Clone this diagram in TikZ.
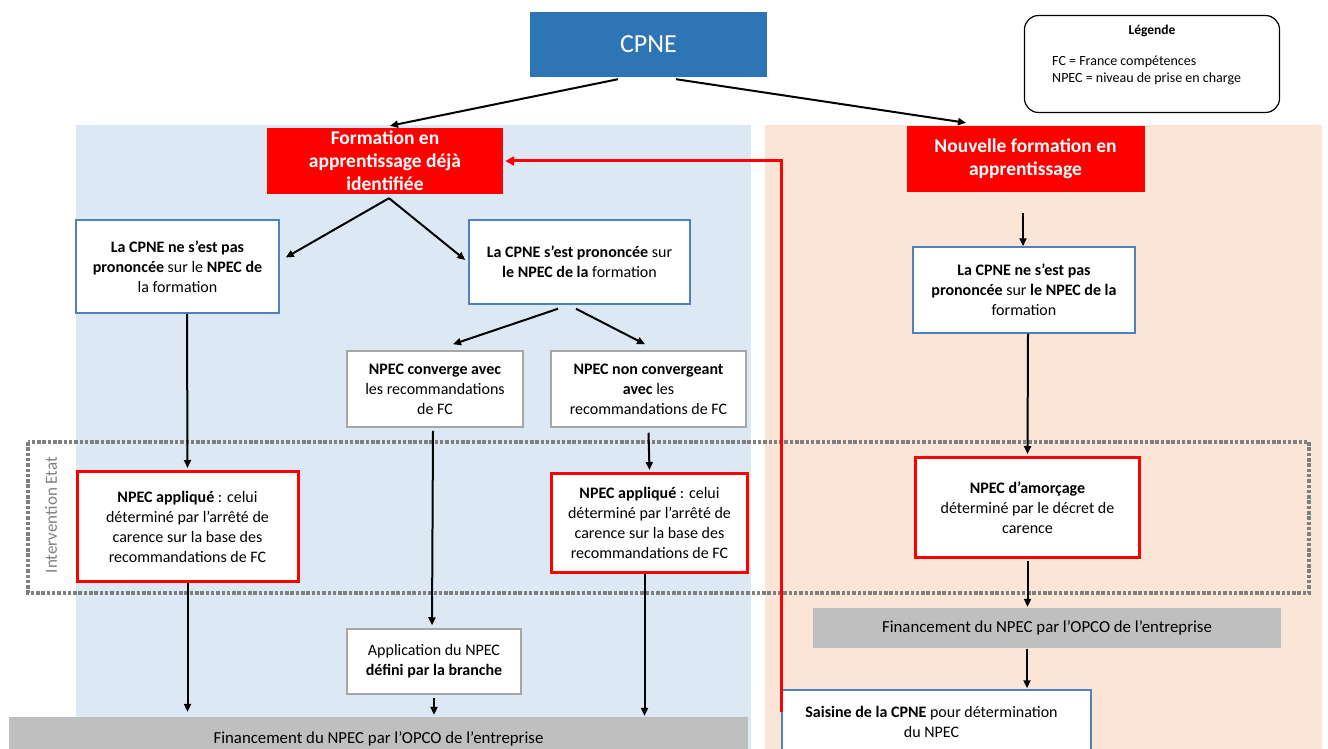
\documentclass[tikz,border=0pt]{standalone}
\usepackage{fontspec}
\setmainfont{Carlito}
\usetikzlibrary{arrows.meta,calc,positioning}
\definecolor{cpneblue}{RGB}{46,117,182}
\definecolor{panelblue}{RGB}{221,232,245}
\definecolor{peach}{RGB}{251,229,214}
\definecolor{bred}{RGB}{255,0,0}
\definecolor{boxblue}{RGB}{79,129,189}
\definecolor{boxgray}{RGB}{166,166,166}
\definecolor{barg}{RGB}{191,191,191}
\definecolor{dashg}{RGB}{127,127,127}
\tikzset{
  basebox/.style={rectangle,inner sep=0pt,align=center,font=\fontsize{16}{20}\selectfont},
  bluebox/.style={basebox,draw=boxblue,line width=1.5pt,fill=white},
  graybox/.style={basebox,draw=boxgray,line width=1.5pt,fill=white},
  redbox/.style={basebox,draw=bred,line width=3pt,fill=white},
  headbox/.style={rectangle,inner sep=0pt,align=center,fill=bred,text=white,font=\fontsize{19.5}{23}\selectfont\bfseries},
  bar/.style={rectangle,inner sep=0pt,fill=barg,font=\fontsize{16.8}{20}\selectfont},
  conn/.style={line width=2pt,-{Triangle[length=8pt,width=7pt]}},
  redconn/.style={draw=bred,line width=3pt,-{Triangle[length=9pt,width=9pt]}},
}
\begin{document}
\begin{tikzpicture}[x=1pt,y=-1pt]
\useasboundingbox (0,0) rectangle (1328,749);
\clip (0,0) rectangle (1328,749);
% panels
\fill[panelblue] (76,125) rectangle (751,760);
\fill[peach] (765,125) rectangle (1322,760);
% dotted intervention frame
\draw[dashg,line width=3.5pt,dash pattern=on 3.5pt off 1.8pt] (28,442) rectangle (1309,593);
\node[rotate=90,text=dashg,font=\fontsize{17}{19}\selectfont] (interv) at (51,515) {Intervention Etat};
% top
\node[rectangle,fill=cpneblue,text=white,minimum width=237pt,minimum height=65pt,font=\fontsize{26}{30}\selectfont] (cpne) at (648.5,44.5) {CPNE};
\node[rectangle,draw=black,line width=1.2pt,rounded corners=14pt,fill=white,minimum width=255pt,minimum height=97pt] (legend) at (1152,64) {};
\node[font=\fontsize{13.5}{15}\selectfont\bfseries] (legtitle) at (1152,31) {Légende};
\node[anchor=north west,align=left,inner sep=0pt,font=\fontsize{14}{17}\selectfont] (legtext) at (1052,56) {FC = France compétences\\NPEC = niveau de prise en charge};
% heading boxes
\node[headbox,minimum width=236pt,minimum height=66pt] (form) at (385,161) {Formation en\\apprentissage déjà\\identifiée};
\node[headbox,minimum width=238pt,minimum height=66pt] (nouv) at (1025.5,159) {Nouvelle formation en\\apprentissage};
% level 2
\node[bluebox,minimum width=203pt,minimum height=93pt] (lnp) at (177.5,266.5) {\textbf{La CPNE ne s’est pas}\\\textbf{prononcée} sur le \textbf{NPEC de}\\la formation};
\node[bluebox,minimum width=221pt,minimum height=84pt] (lp) at (579.5,262) {\textbf{La CPNE s’est prononcée} sur\\\textbf{le NPEC de la} formation};
\node[bluebox,minimum width=222pt,minimum height=86pt] (rnp) at (1024,290) {\textbf{La CPNE ne s’est pas}\\\textbf{prononcée} sur \textbf{le NPEC de la}\\formation};
% level 3
\node[graybox,minimum width=176pt,minimum height=76pt] (conv) at (435,389) {\textbf{NPEC converge avec}\\les recommandations\\de FC};
\node[graybox,minimum width=195pt,minimum height=76pt] (nconv) at (648.5,389) {\textbf{NPEC non convergeant}\\\textbf{avec} les\\recommandations de FC};
% red boxes
\node[redbox,minimum width=221pt,minimum height=110pt] (ra1) at (187.5,526.5) {\textbf{NPEC appliqué} : celui\\déterminé par l’arrêté de\\carence sur la base des\\recommandations de FC};
\node[redbox,minimum width=196pt,minimum height=99pt] (ra2) at (649.5,523) {\textbf{NPEC appliqué} : celui\\déterminé par l’arrêté de\\carence sur la base des\\recommandations de FC};
\node[redbox,minimum width=224pt,minimum height=100pt] (ra3) at (1027.5,507.5) {\textbf{NPEC d’amorçage}\\déterminé par le décret de\\carence};
% lower
\node[graybox,minimum width=174pt,minimum height=65pt] (appl) at (434,661.5) {Application du NPEC\\\textbf{défini par la branche}};
\node[bar,minimum width=739pt,minimum height=43pt] (finL) at (378.5,738.5) {Financement du NPEC par l’OPCO de l’entreprise};
\node[bar,minimum width=468pt,minimum height=40pt] (finR) at (1047,628) {Financement du NPEC par l’OPCO de l’entreprise};
\node[bluebox,minimum width=309pt,minimum height=80pt] (sais) at (936.5,730) {};
\node[basebox,anchor=north] (saistext) at ($(sais.north)+(-5,17)$) {\textbf{Saisine de la CPNE} pour détermination\\du NPEC};
% connectors
\draw[conn] ($(cpne.south)+(-30.5,2)$) -- ($(form.north)+(5,-2)$);
\draw[conn] ($(cpne.south)+(27.5,2)$) -- ($(nouv.north)+(-59.5,-3)$);
\draw[conn] ($(form.south)+(4,4)$) -- ($(lnp.east)+(6,-9)$);
\draw[conn] ($(form.south)+(4,4)$) -- ($(lp.west)+(-3,-2)$);
\draw[conn] ($(lnp.south)+(9.5,0)$) -- ($(ra1.north)+(0,-2)$);
\draw[conn] (ra1.south) -- ($(ra1.south |- finL.north)+(0,-5)$);
\draw[conn] ($(lp.south)+(-21.5,4)$) -- ($(conv.north)+(18,-6)$);
\draw[conn] ($(lp.south)+(-3.5,4)$) -- ($(nconv.north)+(-3.5,-6)$);
\draw[conn] ($(conv.south)+(-2,3)$) -- ($(appl.north)+(-2,-3)$);
\draw[conn] ($(appl.south)+(0,3)$) -- ($(appl.south |- finL.north)+(0,-2)$);
\draw[conn] ($(nconv.south)+(0,5)$) -- ($(ra2.north)+(0,-2)$);
\draw[conn] ($(ra2.south)+(-5,0)$) -- ($(ra2.south |- finL.north)+(-5,-1)$);
\draw[conn] ($(nouv.south)+(-2.5,21)$) -- ($(rnp.north)+(-1,0)$);
\draw[conn] ($(rnp.south)+(4,0)$) -- ($(ra3.north)+(0,-2)$);
\draw[conn] ($(ra3.south)+(0,2)$) -- ($(finR.north -| ra3.south)+(0,-1)$);
\draw[conn] ($(finR.south -| sais.north)+(90.5,1)$) -- ($(sais.north)+(90.5,-1)$);
\draw[redconn] ($(sais.north west)+(0,23)$) |- ($(form.east)+(2,0)$);
\end{tikzpicture}
\end{document}
